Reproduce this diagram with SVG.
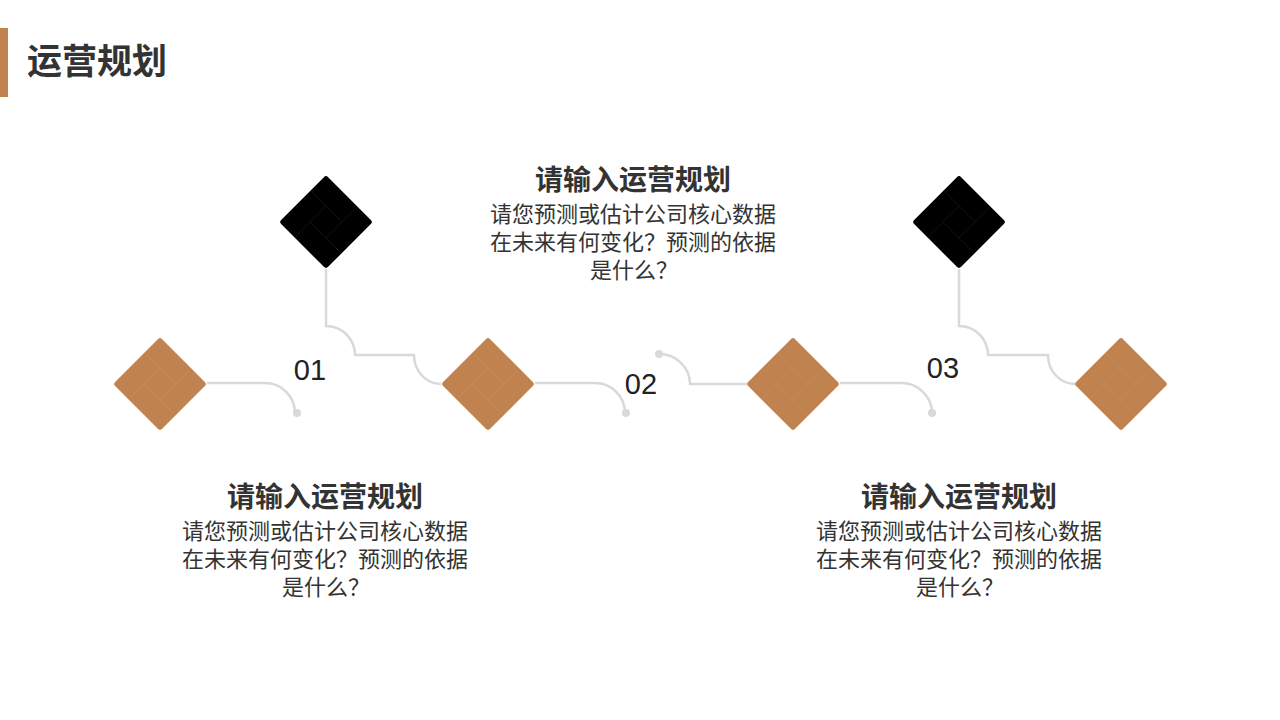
<svg xmlns="http://www.w3.org/2000/svg" width="1280" height="720" viewBox="0 0 1280 720">
<style>
.title{font-family:"Noto Sans CJK SC","Noto Sans",sans-serif;font-weight:700;fill:#333333}
.h{font-family:"Noto Sans CJK SC","Noto Sans",sans-serif;font-weight:700;font-size:28px;fill:#333333;text-anchor:middle}
.b{font-family:"Noto Sans CJK SC","Noto Sans",sans-serif;font-size:22px;fill:#333333;text-anchor:middle}
.num{font-family:"Liberation Sans",Arial,sans-serif;font-size:29px;fill:#222222;text-anchor:middle}
.conn{fill:none;stroke:#d9d9d9;stroke-width:2.5}
.dot{fill:#d9d9d9}
.brown{fill:#c0834f}
.black{fill:#000000}
.gb{stroke:#d49a68;stroke-width:1;fill:none;opacity:0.3}
.gk{stroke:#3a3a3a;stroke-width:1;fill:none;opacity:0.3}
</style>
<defs>
<g id="grid">
<path d="M0,-16 L16,0 L0,16 L-16,0 Z M0,-16 L-15.5,-31.5 M16,0 L31.5,-15.5 M0,16 L15.5,31.5 M-16,0 L-31.5,15.5"/>
</g>
</defs>
<rect width="1280" height="720" fill="#ffffff"/>
<rect x="0" y="28" width="8" height="69" fill="#c0834f"/>
<text class="title" x="27" y="74" font-size="35">运营规划</text>

<g id="connectors">
<path class="conn" d="M207,383 H265 A30,30 0 0 1 295,413"/>
<circle class="dot" cx="297" cy="413" r="4"/>
<path class="conn" d="M326,269 V326 A29,29 0 0 1 355,355 H414 A27,29 0 0 0 441,384"/>
<path class="conn" d="M535,383 H595 A30,30 0 0 1 625,413"/>
<circle class="dot" cx="626" cy="413" r="4"/>
<circle class="dot" cx="659" cy="354" r="4"/>
<path class="conn" d="M659,354 A31,30 0 0 1 690,384 H747"/>
<path class="conn" d="M840,383 H901 A31,30 0 0 1 932,413"/>
<circle class="dot" cx="932" cy="413" r="4"/>
<path class="conn" d="M959,269 V326 A29,29 0 0 1 988,355 H1048 A27,29 0 0 0 1075,384"/>
</g>

<g id="node-b1" transform="translate(160,384)">
<rect class="brown" x="-33.2" y="-33.2" width="66.4" height="66.4" rx="3" transform="rotate(45)"/>
<use href="#grid" class="gb"/>
</g>
<g id="node-k1" transform="translate(326,222)">
<rect class="black" x="-33.2" y="-33.2" width="66.4" height="66.4" rx="3" transform="rotate(45)"/>
<use href="#grid" class="gk"/>
</g>
<g id="node-b2" transform="translate(488,384)">
<rect class="brown" x="-33.2" y="-33.2" width="66.4" height="66.4" rx="3" transform="rotate(45)"/>
<use href="#grid" class="gb"/>
</g>
<g id="node-b3" transform="translate(793,384)">
<rect class="brown" x="-33.2" y="-33.2" width="66.4" height="66.4" rx="3" transform="rotate(45)"/>
<use href="#grid" class="gb"/>
</g>
<g id="node-k2" transform="translate(959,222)">
<rect class="black" x="-33.2" y="-33.2" width="66.4" height="66.4" rx="3" transform="rotate(45)"/>
<use href="#grid" class="gk"/>
</g>
<g id="node-b4" transform="translate(1121,384)">
<rect class="brown" x="-33.2" y="-33.2" width="66.4" height="66.4" rx="3" transform="rotate(45)"/>
<use href="#grid" class="gb"/>
</g>

<g id="label-01"><text class="num" x="310" y="380">01</text></g>
<g id="label-02"><text class="num" x="641" y="394">02</text></g>
<g id="label-03"><text class="num" x="943" y="378">03</text></g>

<g id="text-center">
<text class="h" x="633" y="190">请输入运营规划</text>
<text class="b" x="633" y="222">请您预测或估计公司核心数据</text>
<text class="b" x="633" y="250">在未来有何变化？预测的依据</text>
<text class="b" x="634" y="278">是什么？</text>
</g>
<g id="text-left">
<text class="h" x="325" y="507">请输入运营规划</text>
<text class="b" x="325" y="539">请您预测或估计公司核心数据</text>
<text class="b" x="325" y="567">在未来有何变化？预测的依据</text>
<text class="b" x="326" y="595">是什么？</text>
</g>
<g id="text-right">
<text class="h" x="959" y="507">请输入运营规划</text>
<text class="b" x="959" y="539">请您预测或估计公司核心数据</text>
<text class="b" x="959" y="567">在未来有何变化？预测的依据</text>
<text class="b" x="960" y="595">是什么？</text>
</g>
</svg>
